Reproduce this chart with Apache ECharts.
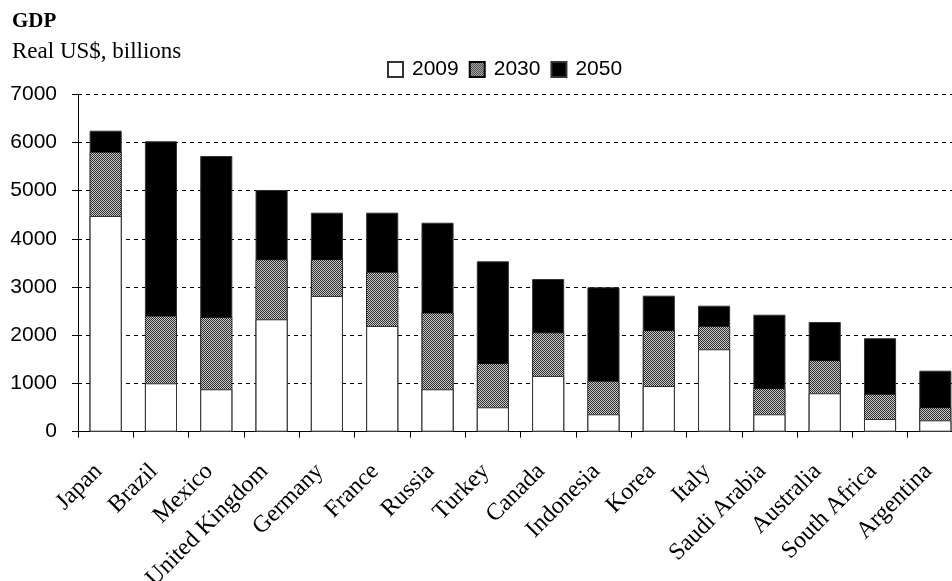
<!DOCTYPE html>
<html>
<head>
<meta charset="utf-8">
<script src="https://cdn.jsdelivr.net/npm/echarts@6/dist/echarts.min.js"></script>
<style>
  html, body { margin: 0; padding: 0; background: #fff; }
  #chart { width: 952px; height: 581px; }
</style>
</head>
<body>
<div id="chart"></div>
<script>
// GDP in real US$ billions, by country
const countries = ['Japan', 'Brazil', 'Mexico', 'United Kingdom', 'Germany', 'France', 'Russia', 'Turkey',
  'Canada', 'Indonesia', 'Korea', 'Italy', 'Saudi Arabia', 'Australia', 'South Africa', 'Argentina'];
const gdp2009 = [4475, 1004, 880, 2332, 2815, 2193, 880, 506, 1156, 361, 948, 1710, 361, 797, 263, 236];
const gdp2030 = [5803, 2407, 2380, 3577, 3577, 3320, 2469, 1419, 2062, 1052, 2104, 2193, 900, 1481, 782, 506];
const gdp2050 = [6245, 6025, 5720, 5015, 4544, 4544, 4336, 3535, 3168, 2996, 2822, 2614, 2427, 2276, 1938, 1266];
const yTicks = [0, 1000, 2000, 3000, 4000, 5000, 6000, 7000];

// Fine dotted fill for the 2030 bars
function dotPattern() {
  const c = document.createElement('canvas');
  c.width = 2; c.height = 2;
  const g = c.getContext('2d');
  g.fillStyle = '#cccccc'; g.fillRect(0, 0, 2, 2);
  g.fillStyle = '#2a2a2a';
  g.fillRect(0, 0, 1, 1);
  g.fillRect(1, 1, 1, 1);
  return c;
}

const chart = echarts.init(document.getElementById('chart'), null, { renderer: 'canvas' });
const serif = '"Liberation Serif", "DejaVu Serif", serif';
const sans = '"Liberation Sans", "DejaVu Sans", sans-serif';

const barBase = { type: 'bar', barGap: '-100%', barCategoryGap: '42%', animation: false };

chart.setOption({
  backgroundColor: '#fff',
  title: [
    { text: 'GDP', left: 7, top: 6, textStyle: { fontFamily: serif, fontWeight: 'bold', fontSize: 21, color: '#000' } },
    { text: 'Real US$, billions', left: 7, top: 35, textStyle: { fontFamily: serif, fontWeight: 'normal', fontSize: 23, color: '#000' } }
  ],
  legend: {
    data: ['2009', '2030', '2050'],
    left: 382, top: 54,
    icon: 'rect', itemWidth: 15, itemHeight: 15, itemGap: 10,
    textStyle: { fontFamily: sans, fontSize: 21, color: '#000', padding: [0, 0, 0, 4] },
    selectedMode: false
  },
  grid: { left: 78, top: 94.3, width: 885, bottom: 149.3, containLabel: false, outerBoundsMode: 'none' },
  xAxis: {
    type: 'category',
    data: countries,
    axisLine: { lineStyle: { color: '#000', width: 1 } },
    axisTick: { show: true, length: 6, lineStyle: { color: '#000' } },
    axisLabel: { rotate: 45, margin: 29, padding: [0, 10, 0, 0], fontFamily: serif, fontSize: 24, color: '#000', interval: 0 }
  },
  yAxis: [
    {
      type: 'value', min: 0, max: 7000, interval: 1000,
      axisLine: { show: true, lineStyle: { color: '#000' } },
      axisTick: { show: true, length: 6, lineStyle: { color: '#000' } },
      axisLabel: {
        margin: 21, fontFamily: sans, fontSize: 21, color: '#000',
        formatter: v => (yTicks.indexOf(v) >= 0 ? String(v) : '')
      },
      splitLine: { show: true, lineStyle: { color: '#000', type: [4, 4], width: 1 } }
    },
    {
      type: 'value', min: 0, max: 7000, interval: 1000, position: 'left',
      axisLine: { show: false },
      axisTick: { show: true, inside: true, length: 4, lineStyle: { color: '#000' } },
      axisLabel: { show: false },
      splitLine: { show: false }
    }
  ],
  series: [
    Object.assign({}, barBase, {
      name: '2050', data: gdp2050, z: 2,
      itemStyle: { color: '#000', borderColor: '#333', borderWidth: 1 }
    }),
    Object.assign({}, barBase, {
      name: '2030', data: gdp2030, z: 3,
      itemStyle: { color: { image: dotPattern(), repeat: 'repeat' }, borderColor: '#000', borderWidth: 1, borderType: 'dotted' }
    }),
    Object.assign({}, barBase, {
      name: '2009', data: gdp2009, z: 4,
      itemStyle: { color: '#fff', borderColor: '#333', borderWidth: 1 }
    })
  ]
});
</script>
</body>
</html>
